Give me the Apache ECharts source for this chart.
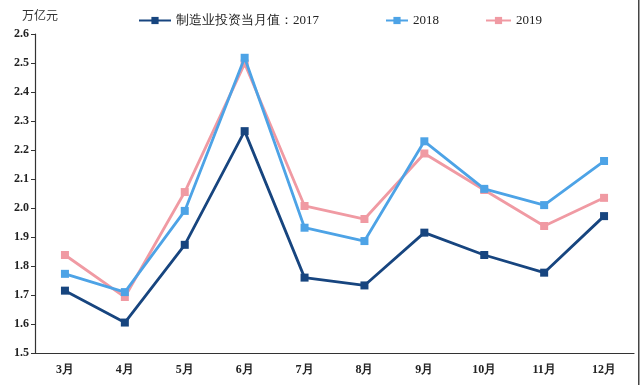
<!DOCTYPE html>
<html><head><meta charset="utf-8">
<script src="https://cdn.jsdelivr.net/npm/echarts@6/dist/echarts.min.js"></script>
<style>html,body{margin:0;padding:0;background:#fff}#c{width:640px;height:385px}</style>
</head><body><div id="c"></div>
<script>
var categories = ['3月','4月','5月','6月','7月','8月','9月','10月','11月','12月'];
var s2017 = [1.715, 1.605, 1.873, 2.265, 1.760, 1.733, 1.915, 1.838, 1.777, 1.972];
var s2018 = [1.773, 1.710, 1.990, 2.518, 1.932, 1.886, 2.230, 2.066, 2.010, 2.162];
var s2019 = [1.838, 1.693, 2.055, 2.498, 2.007, 1.962, 2.188, 2.062, 1.938, 2.035];
var names = ['制造业投资当月值：2017', '2018', '2019'];
var yTicks = ['1.5','1.6','1.7','1.8','1.9','2.0','2.1','2.2','2.3','2.4','2.5','2.6'];
var colors = ['#17457f', '#4da3e6', '#f09aa3'];

var chart = echarts.init(document.getElementById('c'), null, {renderer:'canvas'});
var serif = '"Liberation Serif", "Times New Roman", serif';
var legTxt = {fontFamily: serif, fontSize: 13, color: '#222'};
function mkSeries(i, data){
  return {name: names[i], type:'line', data: data, symbol:'rect', symbolSize:8,
    lineStyle:{color:colors[i], width:2.8}, itemStyle:{color:colors[i]}, z: 3-i};
}
chart.setOption({
  animation:false,
  grid:{left:35, right:6, top:34, bottom:32},
  legend:[
    {data:[names[0]], left:133, top:9, itemWidth:32, itemHeight:9, textStyle:legTxt},
    {data:[names[1]], left:380, top:9, itemWidth:22, itemHeight:9, textStyle:legTxt},
    {data:[names[2]], left:480, top:9, itemWidth:25, itemHeight:9, textStyle:legTxt}
  ],
  graphic:[
    {type:'text', left:22, top:9, style:{text:'万亿元', font:'12px "Noto Sans CJK SC"', fill:'#333'}},
    {type:'rect', left:638, top:0, shape:{width:1.5, height:385}, style:{fill:'#444'}}
  ],
  xAxis:{type:'category', data:categories, boundaryGap:true,
    axisLine:{lineStyle:{color:'#333', width:1.2}},
    axisTick:{inside:true, length:4, lineStyle:{color:'#333'}},
    axisLabel:{fontFamily:serif, fontWeight:'bold', fontSize:12, color:'#222', margin:11}},
  yAxis:{type:'value', min:1.5, max:2.6, interval:0.1,
    axisLine:{show:true, lineStyle:{color:'#333', width:1.2}},
    axisTick:{show:true, length:4, lineStyle:{color:'#333'}},
    splitLine:{show:false},
    axisLabel:{fontFamily:serif, fontWeight:'bold', fontSize:12, color:'#222', margin:6,
      formatter:function(v){ var idx=Math.round((v-1.5)*10); return yTicks[idx]; }}},
  series:[mkSeries(0,s2017), mkSeries(1,s2018), mkSeries(2,s2019)]
});
</script></body></html>
